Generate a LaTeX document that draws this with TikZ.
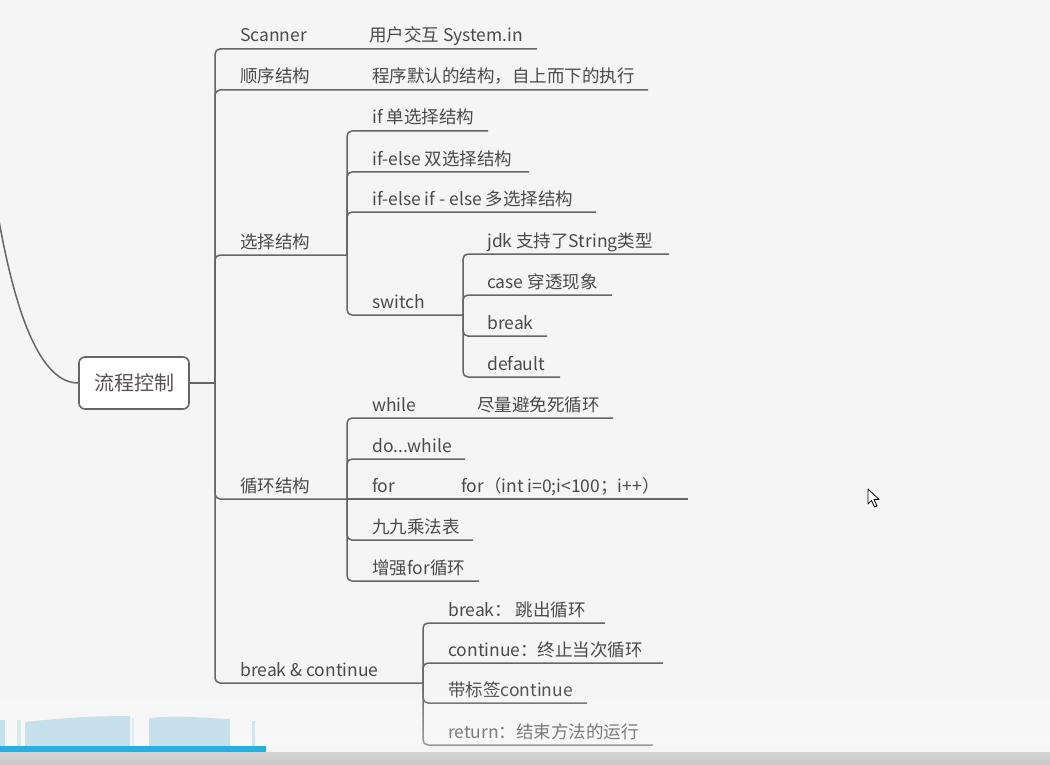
\documentclass[tikz,border=0pt]{standalone}
\usepackage{fontspec}
\setmainfont{Noto Sans CJK SC}
\usetikzlibrary{fadings}
\definecolor{bg}{HTML}{F5F5F5}
\definecolor{ln}{HTML}{666666}
\definecolor{txt}{HTML}{4A4A4A}
\definecolor{roottxt}{HTML}{5A5250}
\definecolor{lblue}{HTML}{C6E1EB}
\definecolor{pbar}{HTML}{27AEE3}
\definecolor{gband}{HTML}{C9C9C9}
\tikzfading[name=fadedown, top color=transparent!100, bottom color=transparent!65]
\begin{document}
\begin{tikzpicture}[x=1pt,y=-1pt,
  conn/.style={draw=ln, line width=1.5pt, rounded corners=5pt},
  lbl/.style={anchor=base west, inner sep=0pt, text=txt, font=\fontsize{17.5}{20}\selectfont},
  rootbox/.style={draw=ln, line width=1.6pt, fill=white, rounded corners=6pt,
    minimum width=110pt, minimum height=52pt, inner sep=0pt, text=roottxt,
    font=\fontsize{20}{24}\selectfont}]
\useasboundingbox (0,0) rectangle (1050,765);
\fill[bg] (0,0) rectangle (1050,765);

% root
\node[rootbox] (root) at (134,383) {流程控制};
\draw[conn] (-2,215) .. controls (18,330) and (45,383) .. (root.west);
\coordinate (j1) at (215,383);
\draw[conn] (root.east) -- (j1);

% level 1 labels
\node[lbl] (scan) at (240,42) {Scanner};
\node[lbl] (scanc) at (369,42) {用户交互 System.in};
\node[lbl] (seq) at (240,83) {顺序结构};
\node[lbl] (seqc) at (372,83) {程序默认的结构，自上而下的执行};
\node[lbl] (sel) at (240,248) {选择结构};
\node[lbl] (loop) at (240,492) {循环结构};
\node[lbl] (bc) at (240,676) {break \& continue};

\coordinate (e-scan) at (350,49);
\coordinate (e-scanc) at (537,49);
\coordinate (e-seq) at (350,90);
\coordinate (e-seqc) at (648,90);
\coordinate (j2) at (347,255);
\coordinate (j4) at (347,499);
\coordinate (j5) at (423,683);

\draw[conn] (j1) |- (e-scan) -- (e-scanc);
\draw[conn] (j1) |- (e-seq) -- (e-seqc);
\draw[conn] (j1) |- (j2);
\draw[conn] (j1) |- (j4);
\draw[conn] (j1) |- (j5);

% selection
\node[lbl] (if1) at (372,124) {if 单选择结构};
\node[lbl] (if2) at (372,165) {if-else 双选择结构};
\node[lbl] (if3) at (372,205) {if-else if - else 多选择结构};
\node[lbl] (sw) at (372,308) {switch};
\coordinate (e-if1) at (488,131);
\coordinate (e-if2) at (529,172);
\coordinate (e-if3) at (596,212);
\coordinate (j3) at (463,315);
\draw[conn] (j2) |- (e-if1);
\draw[conn] (j2) |- (e-if2);
\draw[conn] (j2) |- (e-if3);
\draw[conn] (j2) |- (j3);

% switch
\node[lbl] (s1) at (487,247) {jdk 支持了String类型};
\node[lbl] (s2) at (487,288) {case 穿透现象};
\node[lbl] (s3) at (487,329) {break};
\node[lbl] (s4) at (487,370) {default};
\coordinate (e-s1) at (669,254);
\coordinate (e-s2) at (612,295);
\coordinate (e-s3) at (547,336);
\coordinate (e-s4) at (560,377);
\draw[conn] (j3) |- (e-s1);
\draw[conn] (j3) |- (e-s2);
\draw[conn] (j3) |- (e-s3);
\draw[conn] (j3) |- (e-s4);

% loops
\node[lbl] (w) at (372,411) {while};
\node[lbl] (wc) at (477,411) {尽量避免死循环};
\node[lbl] (dw) at (372,452) {do...while};
\node[lbl] (fr) at (372,492) {for};
\node[lbl] (frc) at (461,492) {for（int i=0;i<100；i++）};
\node[lbl] (nn) at (372,533) {九九乘法表};
\node[lbl] (ef) at (372,574) {增强for循环};
\coordinate (e-w) at (613,418);
\coordinate (e-dw) at (465,459);
\coordinate (e-fr) at (688,499);
\coordinate (e-nn) at (473,540);
\coordinate (e-ef) at (479,581);
\draw[conn] (j4) |- (e-w);
\draw[conn] (j4) |- (e-dw);
\draw[conn] (j4) -- (e-fr);
\draw[conn] (j4) |- (e-nn);
\draw[conn] (j4) |- (e-ef);

% break & continue
\node[lbl] (b1) at (448,616) {break： 跳出循环};
\node[lbl] (b2) at (448,656) {continue：终止当次循环};
\node[lbl] (b3) at (448,696) {带标签continue};
\node[lbl] (b4) at (448,738) {return：结束方法的运行};
\coordinate (e-b1) at (605,623);
\coordinate (e-b2) at (663,663);
\coordinate (e-b3) at (587,703);
\coordinate (e-b4) at (653,745);
\draw[conn] (j5) |- (e-b1);
\draw[conn] (j5) |- (e-b2);
\draw[conn] (j5) |- (e-b3);
\draw[conn] (j5) |- (e-b4);

% bottom player overlay
\fill[white, path fading=fadedown] (0,680) rectangle (1050,746);
\fill[lblue] (0,720) rectangle (5,746);
\fill[lblue!70] (17,720) rectangle (21,746);
\fill[lblue] (25,722) .. controls (70,717) and (100,716) .. (130,716) -- (130,746) -- (25,746) -- cycle;
\fill[lblue!60] (132,718) rectangle (134,746);
\fill[lblue] (149,718) .. controls (180,715) and (200,718) .. (230,719) -- (230,746) -- (149,746) -- cycle;
\fill[lblue!80] (252,721) rectangle (255,746);
\fill[pbar] (0,746) rectangle (266,752);
\shade[top color=gband!80, bottom color=gband] (0,752) rectangle (1050,765);

% mouse cursor
\filldraw[fill=white, draw=black, line width=0.8pt, line join=round]
  (868,489) -- (868,504) -- (871.5,500.5) -- (874.5,507) -- (877,506) -- (874,499.5) -- (879,499.5) -- cycle;
\end{tikzpicture}
\end{document}
